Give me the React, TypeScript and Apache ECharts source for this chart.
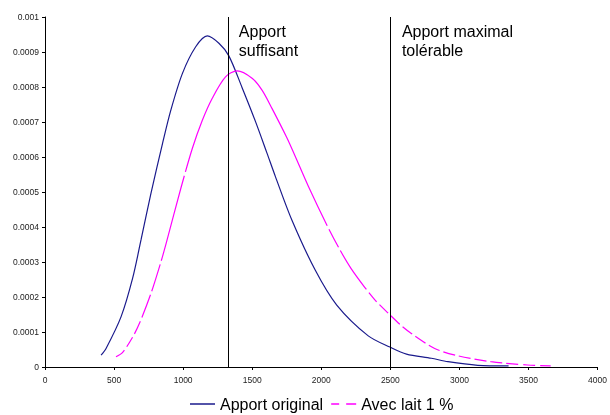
import React, { useEffect, useRef } from "react";
import * as echarts from "echarts";

const originalX = [406, 442, 551, 634, 695, 767, 851, 911, 995, 1091, 1175, 1259, 1331, 1427, 1524, 1607, 1668, 1787, 1956, 2112, 2340, 2497, 2617, 2797, 2917, 3133, 3356];
const originalY = [0.000034, 0.000053, 0.000144, 0.000253, 0.000363, 0.000496, 0.000639, 0.000734, 0.000839, 0.000915, 0.000946, 0.000925, 0.000889, 0.000798, 0.000701, 0.000611, 0.000544, 0.00042, 0.000277, 0.000177, 0.000089, 0.000057, 0.000037, 0.000025, 0.0000151, 0.0000048, 0.000003];

const laitX = [514, 562, 634, 683, 767, 839, 879, 983, 1067, 1139, 1211, 1307, 1391, 1499, 1571, 1643, 1751, 1808, 1908, 2040, 2136, 2215, 2316, 2388, 2484, 2580, 2652, 2821, 2989, 3229, 3493, 3661];
const laitY = [0.0000295, 0.000042, 0.000085, 0.000124, 0.00021, 0.0003, 0.000356, 0.00051, 0.000625, 0.000705, 0.000768, 0.000829, 0.000846, 0.000825, 0.000791, 0.000739, 0.000655, 0.000605, 0.000515, 0.000406, 0.000334, 0.000282, 0.000227, 0.000192, 0.000154, 0.000118, 0.000096, 0.000053, 0.000032, 0.0000152, 0.0000057, 0.000003];

const refLines = [1325, 2500];
const refLabels = ["Apport\nsuffisant", "Apport maximal\ntolérable"];
const seriesNames = ["Apport original", "Avec lait 1 %"];

// dash pattern along the magenta curve (pixel lengths), imitating the reference's irregular dashes
const laitDash = [
  11, 4, 11, 4, 14, 4, 24, 4, 28, 4, 88, 4, 300, 4, 20, 4, 47, 4,
  12, 4, 12, 4, 12, 4, 12, 4, 12, 4, 12, 4, 12, 4, 12, 4, 12, 4, 12, 4,
  12, 5, 12, 5, 12, 5, 12, 5, 12, 5, 12, 5, 12, 5, 12, 5, 12, 5,
];

export default function App() {
  const ref = useRef<HTMLDivElement>(null);
  useEffect(() => {
    document.body.style.margin = "0";
    const chart = echarts.init(ref.current!, null, { renderer: "svg" });
    const font = "Arial, 'Liberation Sans', sans-serif";
    chart.setOption({
      animation: false,
      grid: { left: 45, right: 10, top: 17, bottom: 48 },
      xAxis: {
        type: "value",
        min: 0,
        max: 4000,
        interval: 500,
        axisLine: { lineStyle: { color: "#000", width: 1 } },
        axisTick: { length: 3, lineStyle: { color: "#000" } },
        axisLabel: { fontSize: 8.5, color: "#222", fontFamily: font, margin: 8, formatter: (v: number) => String(v) },
        splitLine: { show: false },
      },
      yAxis: {
        type: "value",
        min: 0,
        max: 0.001,
        interval: 0.0001,
        axisLine: { show: true, lineStyle: { color: "#000", width: 1 } },
        axisTick: { show: true, length: 3, lineStyle: { color: "#000" } },
        axisLabel: {
          fontSize: 8.5,
          color: "#222",
          fontFamily: font,
          margin: 6,
          formatter: (v: number) => (v === 0 ? "0" : String(+v.toFixed(4))),
        },
        splitLine: { show: false },
      },
      legend: {
        top: 396,
        left: 190,
        padding: 0,
        itemWidth: 25,
        itemHeight: 1.5,
        itemGap: 8,
        symbolKeepAspect: false,
        textStyle: { fontSize: 16, color: "#000", fontFamily: font },
        data: [
          { name: seriesNames[0], icon: "path://M0,0H25V1.5H0Z" },
          { name: seriesNames[1], icon: "path://M0,0H8V1.5H0Z M15,0H25V1.5H15Z" },
        ],
      },
      series: [
        {
          name: seriesNames[0],
          type: "line",
          symbol: "none",
          smooth: 0.3,
          data: originalX.map((x, i) => [x, originalY[i]]),
          lineStyle: { color: "#1a1a8c", width: 1.2 },
          itemStyle: { color: "#1a1a8c" },
          markLine: {
            silent: true,
            symbol: "none",
            label: { show: false },
            lineStyle: { color: "#000", width: 1, type: "solid" },
            data: refLines.map((v) => ({ xAxis: v })),
          },
        },
        {
          name: seriesNames[1],
          type: "line",
          symbol: "none",
          smooth: 0.3,
          data: laitX.map((x, i) => [x, laitY[i]]),
          lineStyle: { color: "#ff00ff", width: 1.2, type: laitDash },
          itemStyle: { color: "#ff00ff" },
        },
      ],
      graphic: refLines.map((v, i) => ({
        type: "text",
        x: 45 + v * (555 / 4000) + 10,
        y: 22,
        style: {
          text: refLabels[i],
          fontSize: 16,
          lineHeight: 19,
          fill: "#000",
          fontFamily: font,
        },
      })),
    });
    return () => chart.dispose();
  }, []);
  return <div ref={ref} style={{ position: "fixed", left: 0, top: 0, width: 610, height: 415 }} />;
}
